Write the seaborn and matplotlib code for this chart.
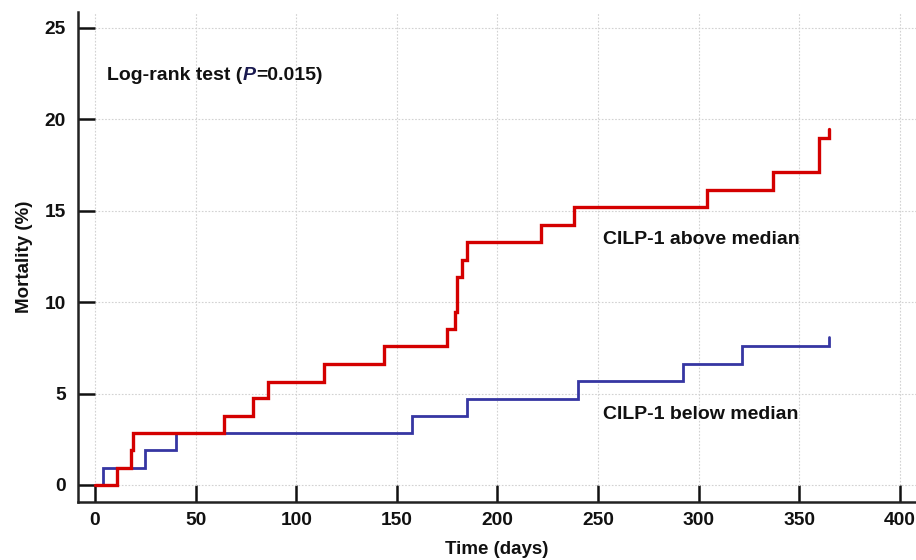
import numpy as np
import pandas as pd
import seaborn as sns
import matplotlib
matplotlib.use("Agg")
import matplotlib.pyplot as plt

# ---- data ----
above_time = [0, 10.8, 17.7, 18.7, 64, 78.7, 86, 113.8, 143.6, 174.7, 178.9, 179.7,
              182.2, 184.7, 221.6, 238, 303.9, 337, 359.8, 365]
above_mort = [0, 0.95, 1.9, 2.83, 3.8, 4.74, 5.66, 6.62, 7.58, 8.53, 9.47, 11.38,
              12.33, 13.28, 14.24, 15.2, 16.15, 17.1, 19.0, 19.48]
below_time = [0, 3.8, 24.8, 40.2, 157.7, 184.7, 239.8, 292.3, 321.6, 365]
below_mort = [0, 0.95, 1.9, 2.83, 3.78, 4.73, 5.68, 6.63, 7.6, 8.08]
groups = ["CILP-1 above median", "CILP-1 below median"]
x_ticks = [0, 50, 100, 150, 200, 250, 300, 350, 400]
y_ticks = [0, 5, 10, 15, 20, 25]

df = pd.concat([
    pd.DataFrame({"time": above_time, "mort": above_mort, "group": groups[0]}),
    pd.DataFrame({"time": below_time, "mort": below_mort, "group": groups[1]}),
], ignore_index=True)

sns.set_theme(style="white")
plt.rcParams["font.family"] = ["Liberation Sans", "DejaVu Sans"]

fig = plt.figure(figsize=(9.16, 5.6), dpi=100)
ax = fig.add_axes([78 / 916, 1 - 502 / 560, (916 - 78) / 916, (502 - 12) / 560])

palette = {groups[0]: "#d40000", groups[1]: "#3636a2"}
sns.lineplot(data=df, x="time", y="mort", hue="group", palette=palette,
             drawstyle="steps-post", estimator=None, sort=False, legend=False,
             ax=ax, linewidth=2.4)
for line in ax.get_lines():
    if matplotlib.colors.to_hex(line.get_color()) == "#3636a2":
        line.set_linewidth(2.0)
        line.set_zorder(2)
    else:
        line.set_zorder(3)
    line.set_solid_joinstyle("miter")

ax.set_xlim(-8.45, 408)
ax.set_ylim(-0.93, 25.87)
ax.set_xticks(x_ticks)
ax.set_yticks(y_ticks)
ax.grid(True, linestyle=(0, (1.5, 1.5)), color="#d2d2d2", linewidth=0.8)
ax.set_axisbelow(True)

for s in ["top", "right"]:
    ax.spines[s].set_visible(False)
for s in ["left", "bottom"]:
    ax.spines[s].set_color("#222222")
    ax.spines[s].set_linewidth(1.8)

ax.tick_params(axis="both", direction="in", length=12, width=1.8, color="#111111",
               labelsize=13.8, labelcolor="#111111", left=True, bottom=True)
ax.tick_params(axis="y", pad=9)
ax.tick_params(axis="x", pad=7)
for lab in ax.get_xticklabels() + ax.get_yticklabels():
    lab.set_fontweight("bold")

ax.set_xlabel("Time (days)", fontsize=13.5, fontweight="bold", color="#111111", labelpad=9)
ax.set_ylabel("Mortality (%)", fontsize=13.5, fontweight="bold", color="#111111", labelpad=8)

ax.text(252.4, 13.4, groups[0], fontsize=14, fontweight="bold", color="#111111", va="center")
ax.text(252.4, 3.83, groups[1], fontsize=14, fontweight="bold", color="#111111", va="center")

# Log-rank annotation with italic P
fig.canvas.draw()
renderer = fig.canvas.get_renderer()
parts = [("Log-rank test (", "normal", "#111111"), ("P", "italic", "#1a1a50"),
         ("=0.015)", "normal", "#111111")]
xpos = 6.0
for txt, style, col in parts:
    t = ax.text(xpos, 22.4, txt, fontsize=14, fontweight="bold", fontstyle=style,
                color=col, va="center")
    bb = t.get_window_extent(renderer=renderer)
    x1 = ax.transData.inverted().transform((bb.x1, bb.y0))[0]
    xpos = x1 + 0.3

fig.savefig("out.png", dpi=100)
